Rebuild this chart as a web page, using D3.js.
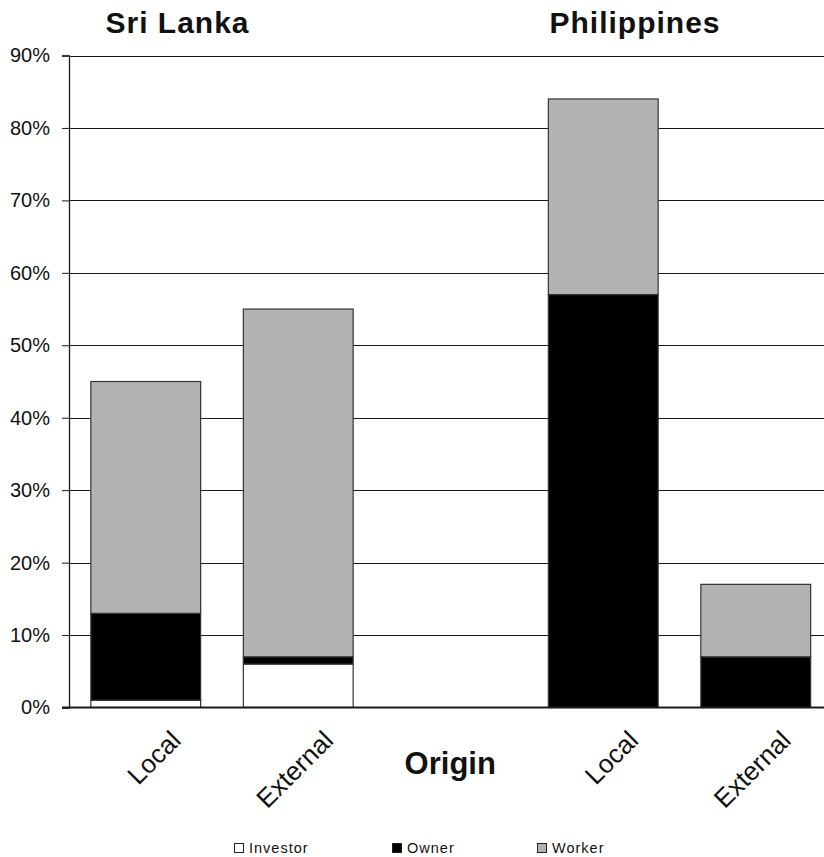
<!DOCTYPE html>
<html>
<head>
<meta charset="utf-8">
<script src="https://cdn.jsdelivr.net/npm/d3@7"></script>
<style>
  html, body { margin: 0; padding: 0; background: #fff; }
  svg { display: block; font-family: "Liberation Sans", Arial, sans-serif; }
</style>
</head>
<body>
<svg id="chart" width="824" height="857"></svg>
<script>
// Share of respondents by role, split by origin, for two countries.
// The middle slot is intentionally empty to separate the countries.
const categories = ["Local", "External", "", "Local", "External"];
const investor = [1, 6, null, 0, 0];
const owner = [12, 1, null, 57, 7];
const worker = [32, 48, null, 27, 10];
const groups = ["Sri Lanka", "Philippines"];
const groupSlots = [[0, 1], [3, 4]];
const seriesNames = ["Investor", "Owner", "Worker"];
const seriesColors = ["#ffffff", "#000000", "#b2b2b2"];
const yTicks = [0, 10, 20, 30, 40, 50, 60, 70, 80, 90];

const svg = d3.select("#chart");
const margin = { left: 69, top: 55.5, bottom: 707.5 };
const plotRight = 831.5;

const x = d3.scaleBand()
  .domain(d3.range(categories.length))
  .range([margin.left, plotRight])
  .paddingInner(0.28)
  .paddingOuter(0.14);

const y = d3.scaleLinear()
  .domain([0, 90])
  .range([margin.bottom, margin.top]);

// Gridlines
svg.append("g")
  .selectAll("line")
  .data(yTicks.filter(d => d > 0))
  .join("line")
  .attr("x1", margin.left)
  .attr("x2", 824)
  .attr("y1", d => Math.round(y(d)) + 0.5)
  .attr("y2", d => Math.round(y(d)) + 0.5)
  .attr("stroke", "#1a1a1a")
  .attr("stroke-width", 1);

// Stacked bars
const rows = categories.map((c, i) => ({
  i,
  Investor: investor[i] || 0,
  Owner: owner[i] || 0,
  Worker: worker[i] || 0,
  empty: investor[i] == null
}));
const stacked = d3.stack().keys(seriesNames)(rows);

const barLayer = svg.append("g");
stacked.forEach((layer, k) => {
  barLayer.append("g")
    .selectAll("rect")
    .data(layer.filter(d => !d.data.empty && d[1] > d[0]))
    .join("rect")
    .attr("x", d => x(d.data.i) + 0.5)
    .attr("width", x.bandwidth())
    .attr("y", d => y(d[1]))
    .attr("height", d => y(d[0]) - y(d[1]))
    .attr("fill", seriesColors[k])
    .attr("stroke", "#333")
    .attr("stroke-width", 1.2);
});

// Y axis
const yAxis = d3.axisLeft(y)
  .tickValues(yTicks)
  .tickFormat(d => d + "%")
  .tickSize(7)
  .tickPadding(12);
const yg = svg.append("g")
  .attr("transform", `translate(${margin.left},0)`)
  .call(yAxis);
yg.select(".domain").attr("stroke", "#1a1a1a").attr("stroke-width", 1.3);
yg.selectAll(".tick line").attr("stroke", "#1a1a1a");
yg.selectAll(".tick text")
  .attr("font-family", "Liberation Sans, Arial, sans-serif")
  .attr("font-size", 20)
  .attr("fill", "#111");

// Baseline
svg.append("line")
  .attr("x1", margin.left - 7)
  .attr("x2", 824)
  .attr("y1", y(0))
  .attr("y2", y(0))
  .attr("stroke", "#1a1a1a")
  .attr("stroke-width", 2);

// Category labels, rotated
svg.append("g")
  .selectAll("text")
  .data(categories.map((c, i) => ({ c, i })).filter(d => d.c))
  .join("text")
  .attr("transform", d => `translate(${x(d.i) + x.bandwidth() / 2 + 37},742) rotate(-45)`)
  .attr("text-anchor", "end")
  .attr("font-size", 26)
  .attr("fill", "#111")
  .text(d => d.c);

// Axis title
svg.append("text")
  .attr("x", (x(2) + x.bandwidth() / 2))
  .attr("y", 774)
  .attr("text-anchor", "middle")
  .attr("font-size", 31)
  .attr("font-weight", "bold")
  .attr("fill", "#111")
  .text("Origin");

// Country titles
svg.append("g")
  .selectAll("text")
  .data(groups)
  .join("text")
  .attr("x", (g, k) => {
    const [a, b] = groupSlots[k];
    return (x(a) + x(b) + x.bandwidth()) / 2 - 44;
  })
  .attr("y", 33)
  .attr("text-anchor", "middle")
  .attr("font-size", 30)
  .attr("font-weight", "bold")
  .attr("letter-spacing", 1)
  .attr("fill", "#111")
  .text(d => d);

// Legend
const legendX = [234, 392, 537];
const legend = svg.append("g")
  .selectAll("g")
  .data(seriesNames)
  .join("g")
  .attr("transform", (d, k) => `translate(${legendX[k]},842)`);
legend.append("rect")
  .attr("x", 0.5)
  .attr("y", 1.5)
  .attr("width", 9)
  .attr("height", 9)
  .attr("fill", (d, k) => seriesColors[k])
  .attr("stroke", "#222")
  .attr("stroke-width", 1);
legend.append("text")
  .attr("x", 15)
  .attr("y", 11)
  .attr("font-size", 14.5)
  .attr("letter-spacing", 1)
  .attr("fill", "#111")
  .text(d => d);
</script>
</body>
</html>
